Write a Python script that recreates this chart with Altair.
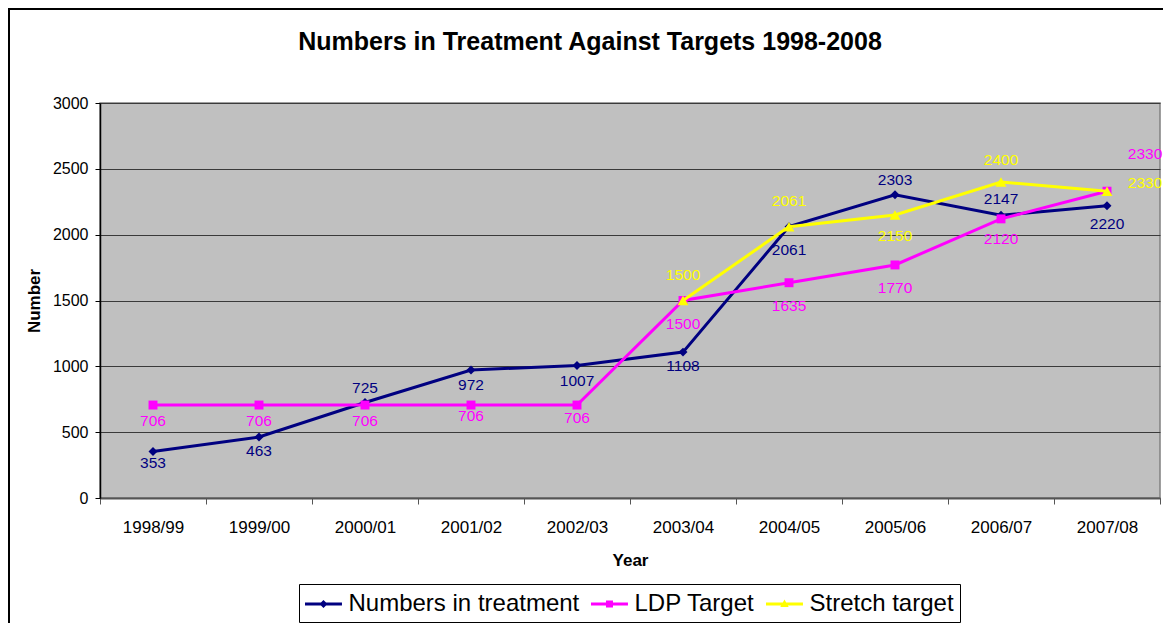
import altair as alt
import pandas as pd

# ---------------- data ----------------
years = ["1998/99", "1999/00", "2000/01", "2001/02", "2002/03",
         "2003/04", "2004/05", "2005/06", "2006/07", "2007/08"]
treatment = [353, 463, 725, 972, 1007, 1108, 2061, 2303, 2147, 2220]
ldp_target = [706, 706, 706, 706, 706, 1500, 1635, 1770, 2120, 2330]
stretch_years = ["2003/04", "2004/05", "2005/06", "2006/07", "2007/08"]
stretch_target = [1500, 2061, 2150, 2400, 2330]
series_names = ["Numbers in treatment", "LDP Target", "Stretch target"]
series_colors = ["#000080", "#FF00FF", "#FFFF00"]
y_ticks = [0, 500, 1000, 1500, 2000, 2500, 3000]

# ---------------- layout (label offsets in px) ----------------
treatment_dy = [11, 14, -15, 15, 16, 14, 23, -15, -16, 18]
ldp_dy = [16, 16, 16, 11, 13, 23, 23, 23, 20, -37]
ldp_dx = [0, 0, 0, 0, 0, 0, 0, 0, 0, 38]
stretch_dy = [-26, -26, 21, -22, -8]
stretch_dx = [0, 0, 0, 0, 38]

FONT = "Liberation Sans"
W, H = 1060, 395


def frame(name, xs, vals, dys, dxs):
    return pd.DataFrame({"series": name, "year": xs, "value": vals, "dy": dys, "dx": dxs})


df_t = frame(series_names[0], years, treatment, treatment_dy, [0] * len(years))
df_l = frame(series_names[1], years, ldp_target, ldp_dy, ldp_dx)
df_s = frame(series_names[2], stretch_years, stretch_target, stretch_dy, stretch_dx)
df_all = pd.concat([df_t, df_l, df_s], ignore_index=True)

color_scale = alt.Scale(domain=series_names, range=series_colors)

x_enc = alt.X(
    "year:N", sort=years,
    scale=alt.Scale(type="band", domain=years, paddingInner=0, paddingOuter=0),
    axis=alt.Axis(
        title="Year", labelAngle=0, tickBand="extent", tickSize=6,
        labelPadding=15, titlePadding=17, labelFont=FONT, labelFontSize=17,
        labelColor="black", titleFont=FONT, titleFontSize=17, titleFontWeight="bold",
        titleColor="black", domainColor="#555555", domainWidth=2, tickColor="#555555",
        tickWidth=1, grid=False,
    ),
)
y_enc = alt.Y(
    "value:Q",
    scale=alt.Scale(domain=[0, 3000], nice=False, zero=True),
    axis=alt.Axis(
        title="Number", values=y_ticks, format="d", tickSize=5, labelPadding=7,
        labelFont=FONT, labelFontSize=16, labelColor="black", titleFont=FONT,
        titleFontSize=17, titleFontWeight="bold", titleColor="black", titlePadding=9,
        domainColor="black", domainWidth=1.5, tickColor="black", grid=True,
        gridColor="#3a3a3a", gridWidth=1,
    ),
)

# outer chart border (decoration)
border = alt.Chart(alt.Data(values=[{"k": 1}])).mark_rect(
    fillOpacity=0, stroke="black", strokeWidth=2
).encode(
    x=alt.value(-91), x2=alt.value(W + 200), y=alt.value(-94), y2=alt.value(H + 400)
)

layers = [border]
shapes = ["diamond", "square", "triangle-up"]
sizes = [80, 80, 120]
for name, d, shp, sz, col in zip(series_names, [df_t, df_l, df_s], shapes, sizes, series_colors):
    base = alt.Chart(d).encode(x=x_enc, y=y_enc)
    layers.append(base.mark_line(strokeWidth=3, color=col))
    layers.append(base.mark_point(shape=shp, filled=True, size=sz, opacity=1, color=col))

for name, d, col in zip(series_names, [df_t, df_l, df_s], series_colors):
    combos = d[["dy", "dx"]].drop_duplicates().values.tolist()
    for dy, dx in combos:
        layers.append(
            alt.Chart(d).transform_filter(
                f"datum.dy == {dy} && datum.dx == {dx}"
            ).mark_text(
                dy=dy, dx=dx, font=FONT, fontSize=15.5, color=col, baseline="middle"
            ).encode(x=x_enc, y=y_enc, text=alt.Text("value:Q", format="d"))
        )

# legend entries: bar with marker, as custom symbol paths
BAR = "M-1,-0.107L1.64,-0.107L1.64,0.107L-1,0.107Z "
legend_paths = [
    BAR + "M0.32,-0.29L0.61,0L0.32,0.29L0.03,0Z",
    BAR + "M0.07,-0.25L0.57,-0.25L0.57,0.25L0.07,0.25Z",
    BAR + "M0.32,-0.32L0.62,0.22L0.02,0.22Z",
]
leg = alt.Legend(
    title=None, orient="none", direction="horizontal", legendX=199, legendY=481,
    symbolSize=784, symbolStrokeWidth=0, labelFont=FONT, labelFontSize=24,
    labelColor="black", labelOffset=15.5, columnPadding=11, padding=6,
    strokeColor="black", fillColor="white", labelLimit=0,
)
legend_layer = alt.Chart(df_all).transform_filter("false").mark_point(
    filled=True, opacity=1
).encode(
    x=x_enc, y=y_enc,
    color=alt.Color("series:N", scale=color_scale, legend=leg, sort=series_names),
    shape=alt.Shape("series:N", scale=alt.Scale(domain=series_names, range=legend_paths),
                    legend=leg, sort=series_names),
)
layers.append(legend_layer)

chart = alt.layer(*layers).properties(
    width=W, height=H,
    background="white",
    title=alt.TitleParams(
        text="Numbers in Treatment Against Targets 1998-2008", font=FONT, fontSize=25,
        fontWeight="bold", color="black", anchor="middle", dx=-40, offset=-67,
        baseline="alphabetic",
    ),
    padding={"left": 92, "top": 95, "right": 3, "bottom": 125},
    autosize=alt.AutoSizeParams(type="none"),
).configure_view(
    fill="#C0C0C0", stroke="#808080", strokeWidth=1.5
)

chart.save("out.html", embed_options={"renderer": "svg", "actions": False})
